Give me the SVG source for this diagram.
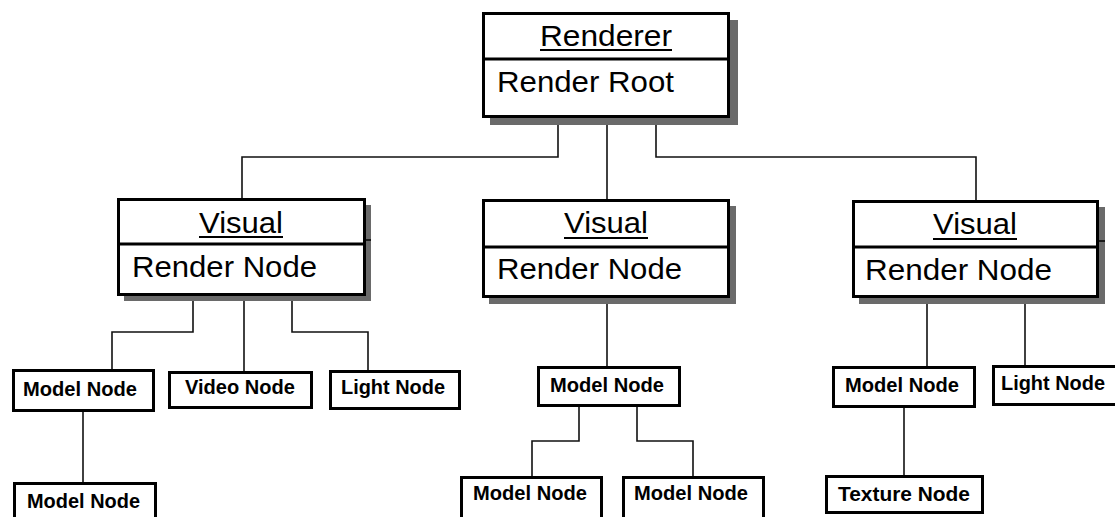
<svg xmlns="http://www.w3.org/2000/svg" width="1115" height="517" viewBox="0 0 1115 517">
  <style>
    .shadow { fill: #6a6a6a; }
    .box { fill: #ffffff; stroke: #000000; stroke-width: 3; }
    .div { stroke: #000000; stroke-width: 3; }
    .ul { stroke: #000000; stroke-width: 2; }
    .edge { fill: none; stroke: #111111; stroke-width: 1.6; }
    .big { font-family: "Liberation Sans", Arial, sans-serif; font-size: 29px; fill: #000000; }
    .small { font-family: "Liberation Sans", Arial, sans-serif; font-size: 19.5px; font-weight: bold; fill: #000000; }
  </style>

  <rect width="1115" height="517" fill="#ffffff"/>

  <!-- connectors -->
  <g id="connectors">
    <polyline class="edge" points="558,118 558,157 242,157 242,198"/>
    <polyline class="edge" points="607,118 607,199"/>
    <polyline class="edge" points="656,118 656,157 976,157 976,200"/>

    <polyline class="edge" points="193,296 193,332 112,332 112,369"/>
    <polyline class="edge" points="244,296 244,371"/>
    <polyline class="edge" points="292,296 292,332 368,332 368,370"/>
    <polyline class="edge" points="83,412 83,482"/>

    <polyline class="edge" points="607,298 607,366"/>
    <polyline class="edge" points="579,407 579,441 532,441 532,476"/>
    <polyline class="edge" points="637,407 637,441 693,441 693,476"/>

    <polyline class="edge" points="927,298 927,366"/>
    <polyline class="edge" points="1025,298 1025,365"/>
    <polyline class="edge" points="904,408 904,475"/>
  </g>

  <!-- Renderer / Render Root -->
  <g id="renderer">
    <rect class="shadow" x="490" y="20" width="248" height="105"/>
    <rect class="box" x="483.5" y="13.5" width="245" height="103"/>
    <line class="div" x1="483" y1="59" x2="729" y2="59"/>
    <text class="big" x="540" y="46" textLength="132" lengthAdjust="spacingAndGlyphs">Renderer</text>
    <line class="ul" x1="540" y1="50" x2="672" y2="50"/>
    <text class="big" x="497" y="92" textLength="177" lengthAdjust="spacingAndGlyphs">Render Root</text>
  </g>

  <!-- Visual (left) -->
  <g id="visual-left">
    <rect class="shadow" x="124" y="205" width="247" height="96"/>
    <line class="div" x1="364" y1="240" x2="371" y2="240" style="stroke-width:1.5"/>
    <rect class="box" x="118.5" y="199.5" width="246" height="95"/>
    <line class="div" x1="118" y1="244" x2="365" y2="244"/>
    <text class="big" x="199" y="233" textLength="84" lengthAdjust="spacingAndGlyphs">Visual</text>
    <line class="ul" x1="199" y1="237" x2="283" y2="237"/>
    <text class="big" x="132" y="277" textLength="185" lengthAdjust="spacingAndGlyphs">Render Node</text>
  </g>

  <!-- Visual (middle) -->
  <g id="visual-middle">
    <rect class="shadow" x="489" y="206" width="247" height="98"/>
    <rect class="box" x="483.5" y="200.5" width="245" height="96"/>
    <line class="div" x1="483" y1="247" x2="729" y2="247"/>
    <text class="big" x="564" y="233" textLength="84" lengthAdjust="spacingAndGlyphs">Visual</text>
    <line class="ul" x1="564" y1="238" x2="648" y2="238"/>
    <text class="big" x="497" y="279" textLength="185" lengthAdjust="spacingAndGlyphs">Render Node</text>
  </g>

  <!-- Visual (right) -->
  <g id="visual-right">
    <rect class="shadow" x="859" y="207" width="246" height="97"/>
    <line class="div" x1="1097" y1="241" x2="1105" y2="241" style="stroke-width:1.5"/>
    <rect class="box" x="853.5" y="201.5" width="244" height="95"/>
    <line class="div" x1="853" y1="247" x2="1098" y2="247"/>
    <text class="big" x="933" y="234" textLength="84" lengthAdjust="spacingAndGlyphs">Visual</text>
    <line class="ul" x1="933" y1="239" x2="1017" y2="239"/>
    <text class="big" x="865" y="280" textLength="187" lengthAdjust="spacingAndGlyphs">Render Node</text>
  </g>

  <!-- leaf nodes, left branch -->
  <g id="model-left">
    <rect class="box" x="13.5" y="370.5" width="140" height="40"/>
    <text class="small" x="23" y="396" textLength="114" lengthAdjust="spacingAndGlyphs">Model Node</text>
  </g>
  <g id="video">
    <rect class="box" x="169.5" y="372.5" width="142" height="35"/>
    <text class="small" x="185" y="394" textLength="110" lengthAdjust="spacingAndGlyphs">Video Node</text>
  </g>
  <g id="light-left">
    <rect class="box" x="330.5" y="371.5" width="129" height="37"/>
    <text class="small" x="341" y="394" textLength="104" lengthAdjust="spacingAndGlyphs">Light Node</text>
  </g>
  <g id="model-left-child">
    <rect class="box" x="14.5" y="483.5" width="141" height="40"/>
    <text class="small" x="27" y="508" textLength="113" lengthAdjust="spacingAndGlyphs">Model Node</text>
  </g>

  <!-- leaf nodes, middle branch -->
  <g id="model-middle">
    <rect class="box" x="538.5" y="367.5" width="141" height="38"/>
    <text class="small" x="550" y="392" textLength="114" lengthAdjust="spacingAndGlyphs">Model Node</text>
  </g>
  <g id="model-middle-a">
    <rect class="box" x="461.5" y="477.5" width="140" height="45"/>
    <text class="small" x="473" y="500" textLength="114" lengthAdjust="spacingAndGlyphs">Model Node</text>
  </g>
  <g id="model-middle-b">
    <rect class="box" x="623.5" y="477.5" width="140" height="45"/>
    <text class="small" x="634" y="500" textLength="114" lengthAdjust="spacingAndGlyphs">Model Node</text>
  </g>

  <!-- leaf nodes, right branch -->
  <g id="model-right">
    <rect class="box" x="833.5" y="367.5" width="141" height="39"/>
    <text class="small" x="845" y="392" textLength="114" lengthAdjust="spacingAndGlyphs">Model Node</text>
  </g>
  <g id="light-right">
    <rect class="box" x="993.5" y="366.5" width="125" height="38"/>
    <text class="small" x="1001" y="390" textLength="104" lengthAdjust="spacingAndGlyphs">Light Node</text>
  </g>
  <g id="texture">
    <rect class="box" x="826.5" y="476.5" width="156" height="36"/>
    <text class="small" x="838" y="501" textLength="132" lengthAdjust="spacingAndGlyphs">Texture Node</text>
  </g>
</svg>
